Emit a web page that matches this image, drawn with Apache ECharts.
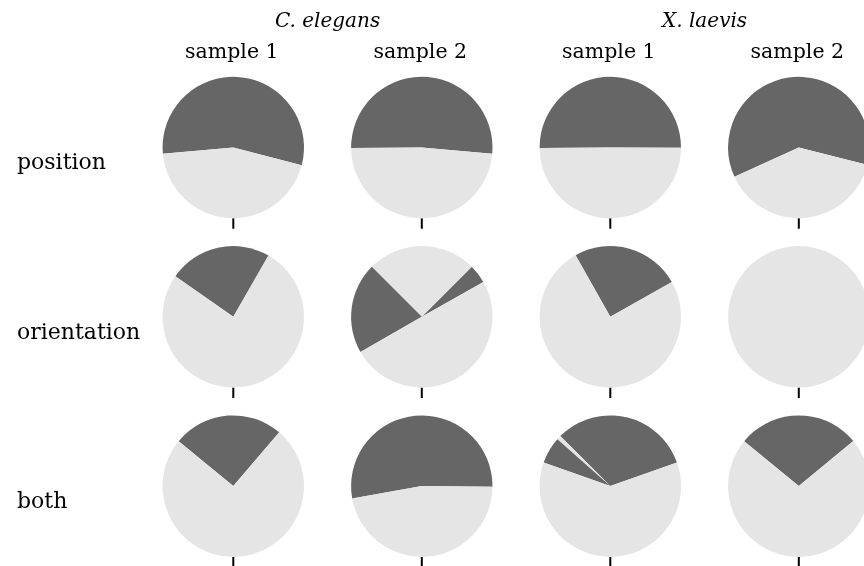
<!DOCTYPE html>
<html>
<head>
<meta charset="utf-8">
<script src="https://cdn.jsdelivr.net/npm/echarts@6/dist/echarts.min.js"></script>
<style>
  html, body { margin: 0; padding: 0; background: #fff; }
  #chart { width: 864px; height: 566px; }
</style>
</head>
<body>
<div id="chart"></div>
<script>
const species = ['C. elegans', 'X. laevis'];
const samples = ['sample 1', 'sample 2', 'sample 1', 'sample 2'];
const rowNames = ['position', 'orientation', 'both'];

// angle (deg, counterclockwise from 3 o'clock) where the first dark slice begins
const positionStart = [-14.5, -5, -0.3, -14.2];
const orientationStart = [60.2, 29.5, 29.4, 0];
const bothStart = [49.5, -0.5, 19.5, 39.6];

// slice sizes in degrees, counterclockwise, alternating dark / light
const positionSlices = [
  [199.5, 160.5],
  [185.5, 174.5],
  [180.8, 179.2],
  [218.7, 141.3],
];
const orientationSlices = [
  [84.9, 275.1],
  [15.5, 90, 74.8, 179.7],
  [90, 270],
  [0, 360],
];
const bothSlices = [
  [91.1, 268.9],
  [190.5, 169.5],
  [115.5, 3.5, 22, 219],
  [101, 259],
];
const allSlices = [positionSlices, orientationSlices, bothSlices];
const allStarts = [positionStart, orientationStart, bothStart];

const colX = [233.3, 421.8, 610.3, 798.8];
const rowY = [147.5, 316.8, 486.1];
const R = 70.7;
const dark = '#666666';
const light = '#e5e5e5';
const font = '"DejaVu Serif", serif';

const chart = echarts.init(document.getElementById('chart'));

const series = [];
const graphic = [];
allSlices.forEach((row, ri) => {
  row.forEach((slices, ci) => {
    series.push({
      type: 'pie',
      center: [colX[ci], rowY[ri]],
      radius: [0, R],
      startAngle: allStarts[ri][ci],
      clockwise: false,
      silent: true,
      animation: false,
      label: { show: false },
      labelLine: { show: false },
      emphasis: { disabled: true },
      itemStyle: { borderWidth: 0 },
      data: slices.map((v, i) => ({
        value: v,
        name: i % 2 ? 'light' : 'dark',
        itemStyle: { color: i % 2 ? light : dark },
      })),
    });
    // tick under each pie
    graphic.push({
      type: 'line',
      silent: true,
      shape: { x1: colX[ci], y1: rowY[ri] + R, x2: colX[ci], y2: rowY[ri] + R + 10.5 },
      style: { stroke: '#000', lineWidth: 2 },
    });
  });
});

species.forEach((s, i) => {
  graphic.push({
    type: 'text',
    style: {
      x: (colX[i * 2] + colX[i * 2 + 1]) / 2,
      y: 21.5,
      text: s,
      font: 'italic 20px ' + font,
      fill: '#000',
      align: 'center',
      verticalAlign: 'middle',
    },
  });
});
samples.forEach((s, i) => {
  graphic.push({
    type: 'text',
    style: {
      x: colX[i] - 1.5,
      y: 52.5,
      text: s,
      font: '20.5px ' + font,
      fill: '#000',
      align: 'center',
      verticalAlign: 'middle',
    },
  });
});
rowNames.forEach((s, i) => {
  graphic.push({
    type: 'text',
    style: {
      x: 17,
      y: rowY[i] + 16,
      text: s,
      font: '22px ' + font,
      fill: '#000',
      align: 'left',
      verticalAlign: 'middle',
    },
  });
});

chart.setOption({
  backgroundColor: '#fff',
  animation: false,
  series: series,
  graphic: graphic,
});
</script>
</body>
</html>
